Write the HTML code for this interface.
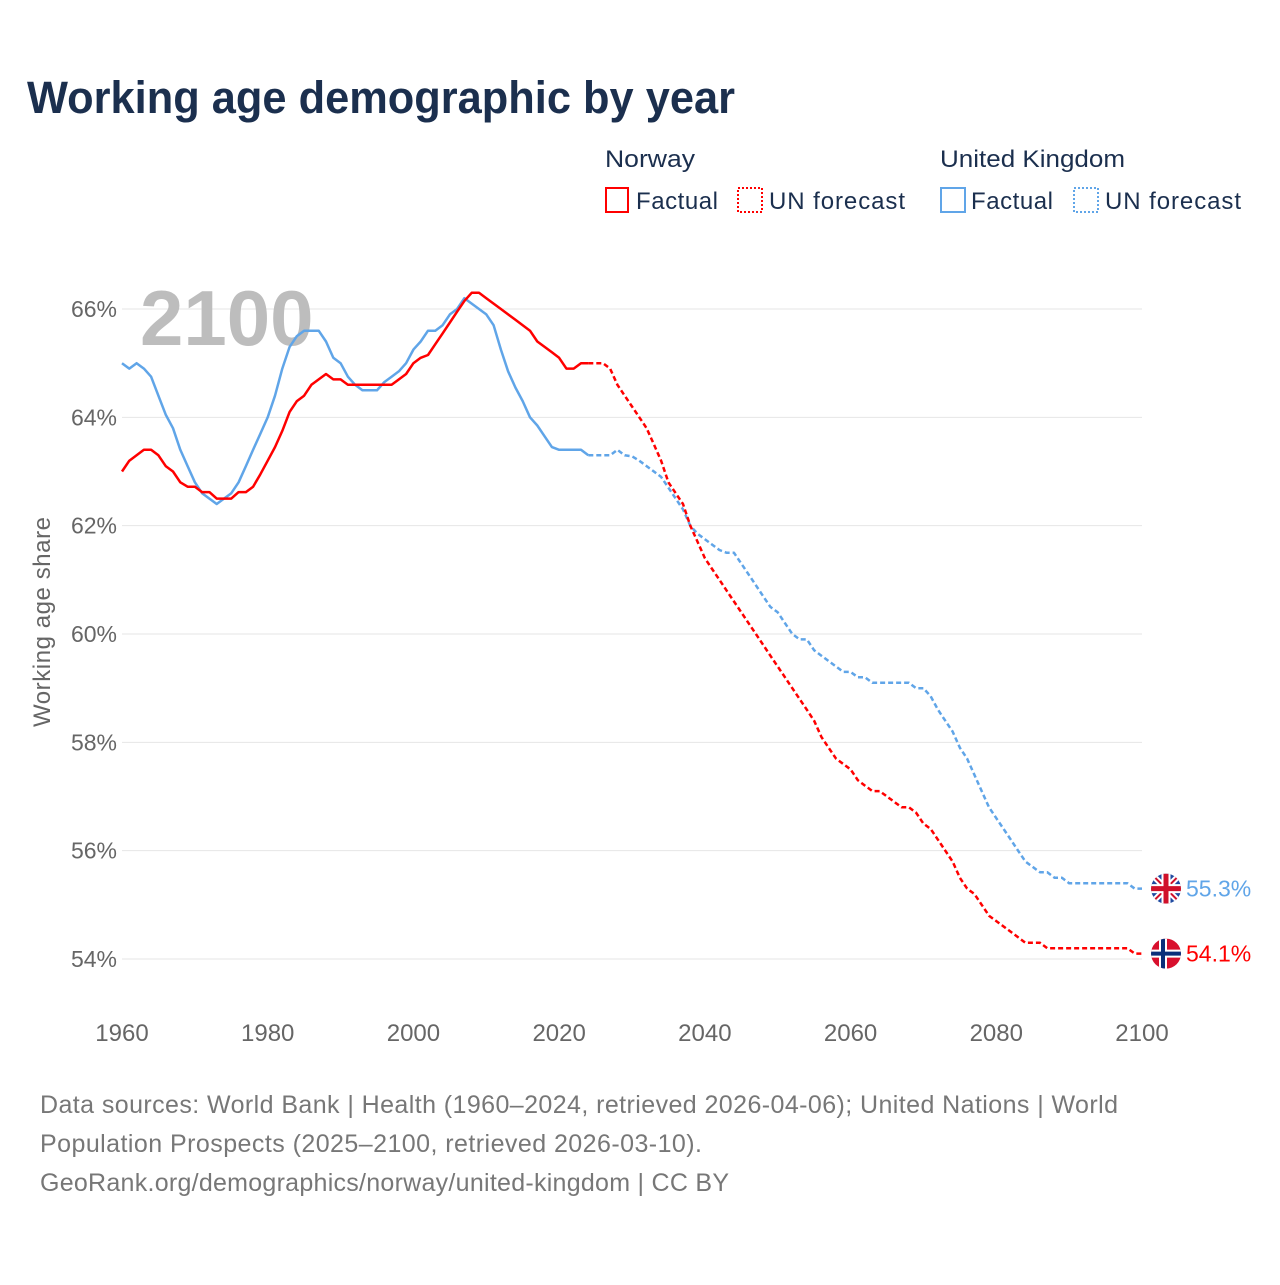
<!DOCTYPE html>
<html><head><meta charset="utf-8"><style>
body{margin:0;background:#fff;width:1280px;height:1280px;overflow:hidden;font-family:"Liberation Sans",sans-serif}
</style></head><body>
<svg id="chart" width="1280" height="1280" xmlns="http://www.w3.org/2000/svg" font-family="Liberation Sans, sans-serif">
<text x="27" y="113" font-size="45" font-weight="bold" fill="#1b2f4e" textLength="708" lengthAdjust="spacingAndGlyphs">Working age demographic by year</text>
<g font-size="24" fill="#1b2f4e">
<text x="605" y="167" textLength="90" lengthAdjust="spacingAndGlyphs">Norway</text>
<rect x="606" y="188" width="22" height="24" fill="none" stroke="#f00" stroke-width="2"/>
<text x="636" y="209" textLength="82">Factual</text>
<rect x="738" y="188" width="24" height="24" fill="none" stroke="#f00" stroke-width="2" stroke-dasharray="2 2"/>
<text x="769" y="209" textLength="136">UN forecast</text>
<text x="940" y="167" textLength="185" lengthAdjust="spacingAndGlyphs">United Kingdom</text>
<rect x="941" y="188" width="24" height="24" fill="none" stroke="#60a5e8" stroke-width="2"/>
<text x="971" y="209" textLength="82">Factual</text>
<rect x="1074" y="188" width="24" height="24" fill="none" stroke="#60a5e8" stroke-width="2" stroke-dasharray="2 2"/>
<text x="1105" y="209" textLength="136">UN forecast</text>
</g>
<g id="grid"></g>
<text x="140" y="345" font-size="78" font-weight="bold" fill="#bdbdbd">2100</text>
<text transform="translate(50,622) rotate(-90)" text-anchor="middle" font-size="24" fill="#666" textLength="210">Working age share</text>
<g id="lines"></g>
<g id="ends"></g>
<g font-size="25" fill="#777">
<text x="40" y="1113" textLength="1078">Data sources: World Bank | Health (1960–2024, retrieved 2026-04-06); United Nations | World</text>
<text x="40" y="1152" textLength="662">Population Prospects (2025–2100, retrieved 2026-03-10).</text>
<text x="40" y="1191" textLength="689">GeoRank.org/demographics/norway/united-kingdom | CC BY</text>
</g>
</svg>
<script>
const yTicks=[54,56,58,60,62,64,66];
const xTicks=[1960,1980,2000,2020,2040,2060,2080,2100];
const noFactStart=1960;
const noFact=[63.0,63.2,63.3,63.4,63.4,63.3,63.1,63.0,62.8,62.72,62.72,62.62,62.62,62.5,62.5,62.5,62.62,62.62,62.72,62.95,63.2,63.45,63.75,64.1,64.3,64.4,64.6,64.7,64.8,64.7,64.7,64.6,64.6,64.6,64.6,64.6,64.6,64.6,64.7,64.8,65.0,65.1,65.15,65.35,65.55,65.75,65.95,66.15,66.3,66.3,66.2,66.1,66.0,65.9,65.8,65.7,65.6,65.4,65.3,65.2,65.1,64.9,64.9,65.0,65.0];
const noFcStart=2024;
const noFc=[65.0,65.0,65.0,64.9,64.6,64.4,64.2,64.0,63.8,63.5,63.2,62.8,62.6,62.4,62.0,61.7,61.4,61.2,61.0,60.8,60.6,60.4,60.2,60.0,59.8,59.6,59.4,59.2,59.0,58.8,58.6,58.4,58.1,57.9,57.7,57.6,57.5,57.3,57.2,57.1,57.1,57.0,56.9,56.8,56.8,56.7,56.5,56.4,56.2,56.0,55.8,55.5,55.3,55.2,55.0,54.8,54.7,54.6,54.5,54.4,54.3,54.3,54.3,54.2,54.2,54.2,54.2,54.2,54.2,54.2,54.2,54.2,54.2,54.2,54.2,54.1,54.1];
const ukFactStart=1960;
const ukFact=[65.0,64.9,65.0,64.9,64.75,64.4,64.05,63.8,63.4,63.1,62.8,62.6,62.5,62.4,62.5,62.6,62.8,63.1,63.4,63.7,64.0,64.4,64.9,65.3,65.5,65.6,65.6,65.6,65.4,65.1,65.0,64.75,64.6,64.5,64.5,64.5,64.65,64.75,64.85,65.0,65.25,65.4,65.6,65.6,65.7,65.9,66.0,66.2,66.1,66.0,65.9,65.7,65.25,64.85,64.55,64.3,64.0,63.85,63.65,63.45,63.4,63.4,63.4,63.4,63.3];
const ukFcStart=2024;
const ukFc=[63.3,63.3,63.3,63.3,63.4,63.3,63.28,63.2,63.1,63.0,62.9,62.7,62.5,62.3,62.0,61.85,61.75,61.65,61.55,61.5,61.5,61.3,61.1,60.9,60.7,60.5,60.4,60.2,60.0,59.9,59.9,59.7,59.6,59.5,59.4,59.3,59.3,59.2,59.2,59.1,59.1,59.1,59.1,59.1,59.1,59.0,59.0,58.85,58.6,58.4,58.2,57.9,57.7,57.4,57.1,56.8,56.6,56.4,56.2,56.0,55.8,55.7,55.6,55.6,55.5,55.5,55.4,55.4,55.4,55.4,55.4,55.4,55.4,55.4,55.4,55.3,55.3];

const NS='http://www.w3.org/2000/svg';
const X=yr=>122+(yr-1960)*(1020/140);
const Y=v=>959-(v-54)*(650/12);
function mk(tag,parent){const e=document.createElementNS(NS,tag);parent.appendChild(e);return e;}
const grid=document.getElementById('grid');
yTicks.forEach(t=>{
  const l=mk('line',grid);
  
  
  l.setAttribute('x1',122);l.setAttribute('x2',1142);l.setAttribute('y1',Y(t));l.setAttribute('y2',Y(t));
  l.setAttribute('stroke','#e6e6e6');l.setAttribute('stroke-width','1');
  const tx=mk('text',grid);
  
  
  tx.setAttribute('x',117);tx.setAttribute('y',Y(t)+8);tx.setAttribute('text-anchor','end');
  tx.setAttribute('font-size','23');tx.setAttribute('fill','#666');tx.textContent=t+'%';
});
xTicks.forEach(t=>{
  const tx=mk('text',grid);
  
  
  tx.setAttribute('x',X(t));tx.setAttribute('y',1041);tx.setAttribute('text-anchor','middle');
  tx.setAttribute('font-size','24');tx.setAttribute('fill','#666');tx.textContent=t;
});
const lines=document.getElementById('lines');
function series(vals,start,color,dash,name){
  const p=mk('path',lines);
  
  
  p.setAttribute('d',vals.map((v,i)=>(i?'L':'M')+X(start+i).toFixed(1)+','+Y(v).toFixed(1)).join(''));
  p.setAttribute('fill','none');p.setAttribute('stroke',color);p.setAttribute('stroke-width','2.5');
  p.setAttribute('stroke-linejoin','round');
  if(dash)p.setAttribute('stroke-dasharray','5 3');
}
series(ukFact,ukFactStart,'#60a5e8',false,'uk-factual-line');
series(ukFc,ukFcStart,'#60a5e8',true,'uk-forecast-line');
series(noFact,noFactStart,'#ff0000',false,'norway-factual-line');
series(noFc,noFcStart,'#ff0000',true,'norway-forecast-line');

const ends=document.getElementById('ends');
const ukEnd=ukFc[ukFc.length-1], noEnd=noFc[noFc.length-1];
const ukY=Y(ukEnd), noY=Y(noEnd);
const fx=1166;
ends.innerHTML=`
<defs><clipPath id="cuk"><circle cx="${fx}" cy="${ukY}" r="15"/></clipPath><clipPath id="cno"><circle cx="${fx}" cy="${noY}" r="15"/></clipPath></defs>
<g clip-path="url(#cuk)">
<rect x="${fx-15}" y="${ukY-15}" width="30" height="30" fill="#1f4aa0"/>
<path d="M${fx-15},${ukY-15}L${fx+15},${ukY+15}M${fx+15},${ukY-15}L${fx-15},${ukY+15}" stroke="#fff" stroke-width="6"/>
<path d="M${fx-15},${ukY-15}L${fx+15},${ukY+15}M${fx+15},${ukY-15}L${fx-15},${ukY+15}" stroke="#d0102a" stroke-width="2"/>
<path d="M${fx},${ukY-15}V${ukY+15}M${fx-15},${ukY}H${fx+15}" stroke="#fff" stroke-width="9"/>
<path d="M${fx},${ukY-15}V${ukY+15}M${fx-15},${ukY}H${fx+15}" stroke="#d0102a" stroke-width="5"/>
</g>
<g clip-path="url(#cno)">
<rect x="${fx-15}" y="${noY-15}" width="30" height="30" fill="#d8102d"/>
<path d="M${fx-3},${noY-15}V${noY+15}M${fx-15},${noY}H${fx+15}" stroke="#fff" stroke-width="8"/>
<path d="M${fx-3},${noY-15}V${noY+15}M${fx-15},${noY}H${fx+15}" stroke="#0a2f7a" stroke-width="4"/>
</g>
<text x="1186" y="${ukY+8}" font-size="23" fill="#60a5e8">${ukEnd.toFixed(1)}%</text>
<text x="1186" y="${noY+8}" font-size="23" fill="#ff0000">${noEnd.toFixed(1)}%</text>`;
</script>
</body></html>
